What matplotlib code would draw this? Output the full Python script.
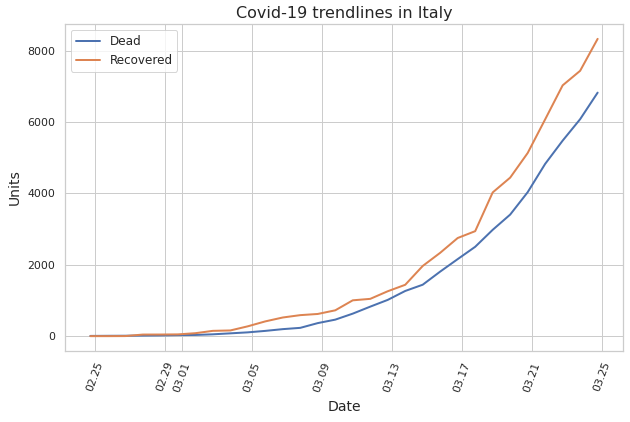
import matplotlib
matplotlib.use("Agg")
import matplotlib.pyplot as plt
import matplotlib.dates as mdates
import seaborn as sns
import pandas as pd

dates = pd.date_range("2020-02-24 18:00", "2020-03-24 18:00", freq="D")
dead = [7, 10, 12, 17, 21, 29, 34, 52, 79, 107, 148, 197, 233, 366, 463, 631,
        827, 1016, 1266, 1441, 1809, 2158, 2503, 2978, 3405, 4032, 4825, 5476,
        6077, 6820]
recovered = [1, 1, 3, 45, 46, 50, 83, 149, 160, 276, 414, 523, 589, 622, 724,
             1004, 1045, 1258, 1439, 1966, 2335, 2749, 2941, 4025, 4440, 5129,
             6072, 7024, 7432, 8326]

sns.set_theme(style="whitegrid")
fig, ax = plt.subplots(figsize=(630 / 72, 422 / 72), dpi=72)
ax.plot(dates, dead, lw=2, label="Dead")
ax.plot(dates, recovered, lw=2, label="Recovered")
ax.xaxis.set_major_locator(mdates.DayLocator(bymonthday=range(1, 32, 4)))
ax.xaxis.set_major_formatter(mdates.DateFormatter("%m.%d"))
plt.setp(ax.get_xticklabels(), rotation=70)
ax.set_title("Covid-19 trendlines in Italy", fontsize=16)
ax.set_xlabel("Date", fontsize=14, labelpad=7)
ax.set_ylabel("Units", fontsize=14, labelpad=6)
ax.legend(loc="upper left", fontsize=12)
fig.subplots_adjust(left=65 / 630, right=623 / 630, top=1 - 24 / 422, bottom=1 - 351 / 422)
fig.savefig("out.png")
